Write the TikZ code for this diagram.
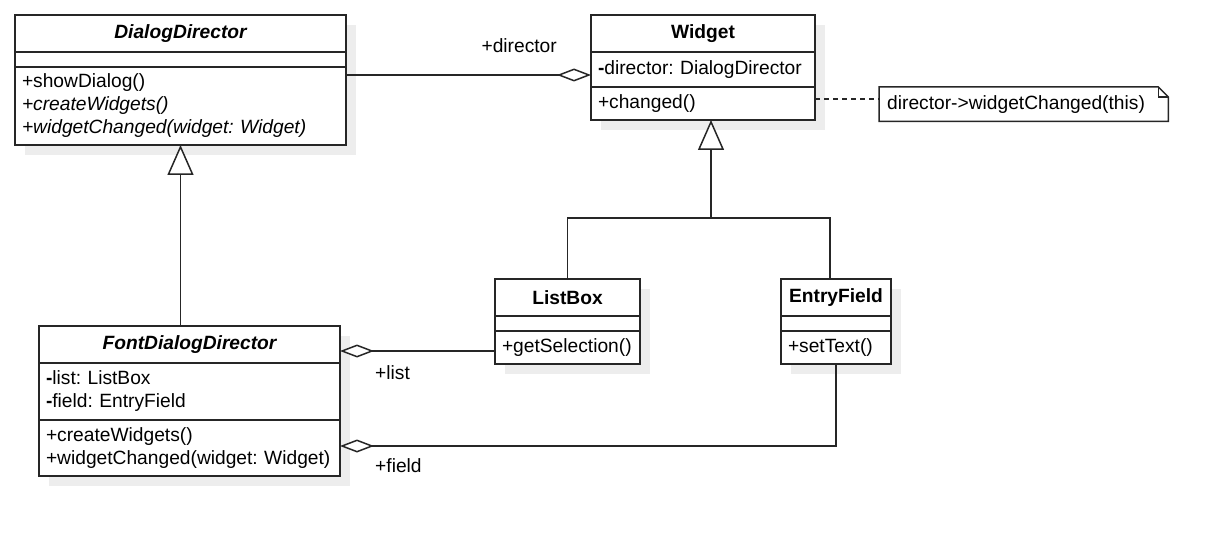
\documentclass[tikz,border=0pt]{standalone}
\usepackage{fontspec}
\setmainfont{Liberation Sans}
\usepackage{tikz}
\usetikzlibrary{positioning,arrows.meta,shadows}

\newcommand{\umlsize}{\fontsize{19.2pt}{23pt}\selectfont\frenchspacing\hyphenpenalty=10000}

\begin{document}
\begin{tikzpicture}[
		x=1pt, y=-1pt
		,line/.style={draw=black!85, line width=1.5pt}
		,box/.style={line, fill=white, font=\umlsize, inner xsep=7pt, inner ysep=0pt, outer sep=0pt, align=left
			,drop shadow={shadow xshift=10pt, shadow yshift=-10pt, fill=black!7, opacity=1}}
		,head/.style={box, align=center, font=\umlsize\bfseries}
		,abstr/.style={head, font=\umlsize\bfseries\itshape}
		,lbl/.style={font=\umlsize, inner sep=0pt}
		,aggr/.style={line, {Diamond[length=34pt, width=13pt, fill=white]}-}
		,inherit/.style={line, -{Triangle[length=30pt, width=26pt, fill=white]}}
		,dep/.style={line, dash pattern=on 5pt off 4pt}
	]
		\useasboundingbox (0,0) rectangle (1228,537);

		% DialogDirector
		\node [abstr, text width=317pt, minimum height=37pt, anchor=north west] (dd) at (15,15) {DialogDirector};
		\node [box, text width=317pt, minimum height=15pt, below=0pt of dd] (dd-a) {};
		\node [box, text width=317pt, minimum height=78pt, below=0pt of dd-a] (dd-m)
			{+showDialog()\\\textit{+createWidgets()}\\\textit{+widgetChanged(widget: Widget)}};

		% Widget
		\node [head, text width=210pt, minimum height=37pt, anchor=north west] (w) at (591,15) {Widget};
		\node [box, text width=210pt, minimum height=35pt, below=0pt of w] (w-a) {\textbf{-}director: DialogDirector};
		\node [box, text width=210pt, minimum height=33pt, below=0pt of w-a] (w-m) {+changed()};

		% note
		\node [lbl, text width=273pt, inner xsep=8pt, minimum height=34pt, align=left, anchor=north west] (note)
			at (879,87) {director->widgetChanged(this)};
		\draw [line] (note.north west) -- ([xshift=-10pt]note.north east) -- ([yshift=-10pt]note.north east)
			-- (note.south east) -- (note.south west) -- cycle;
		\draw [line] ([xshift=-10pt]note.north east) |- ([yshift=-10pt]note.north east);

		% ListBox
		\node [head, text width=131pt, minimum height=37pt, anchor=north west] (lb) at (495,279) {ListBox};
		\node [box, text width=131pt, minimum height=15pt, below=0pt of lb] (lb-a) {};
		\node [box, text width=131pt, minimum height=33pt, below=0pt of lb-a] (lb-m) {+getSelection()};

		% EntryField
		\node [head, text width=96pt, minimum height=37pt, anchor=north west] (ef) at (781,279) {EntryField};
		\node [box, text width=96pt, minimum height=15pt, below=0pt of ef] (ef-a) {};
		\node [box, text width=96pt, minimum height=33pt, below=0pt of ef-a] (ef-m) {+setText()};

		% FontDialogDirector
		\node [abstr, text width=287pt, minimum height=37pt, anchor=north west] (fdd) at (39,326) {FontDialogDirector};
		\node [box, text width=287pt, minimum height=57pt, below=0pt of fdd] (fdd-a)
			{\textbf{-}list: ListBox\\\textbf{-}field: EntryField};
		\node [box, text width=287pt, minimum height=56pt, below=0pt of fdd-a] (fdd-m)
			{+createWidgets()\\+widgetChanged(widget: Widget)};

		% connectors
		\draw [aggr] (w-a.west |- 0,75) -- (dd-m.east |- 0,75);
		\node [lbl, anchor=east] (l-dir) at (557,46) {+director};
		\draw [dep] (w-m.east |- 0,99) -- (note.west |- 0,99);

		\coordinate (wtip) at ([xshift=8pt]w-m.south);
		\coordinate (fork) at (wtip |- 0,218);
		\draw [inherit] (fork) -- (wtip);
		\draw [line] (lb.north) |- (fork) -| ([xshift=-6pt]ef.north);
		\draw [inherit] (fdd.north -| dd-m.south) -- (dd-m.south);

		\draw [aggr] (fdd.east |- 0,351) -- (lb-m.west |- 0,351);
		\node [lbl, anchor=west] (l-list) at (375,373) {+list};
		\draw [aggr] (fdd-m.east |- 0,446) -| (ef-m.south);
		\node [lbl, anchor=west] (l-field) at (375,466) {+field};
	\end{tikzpicture}
\end{document}
